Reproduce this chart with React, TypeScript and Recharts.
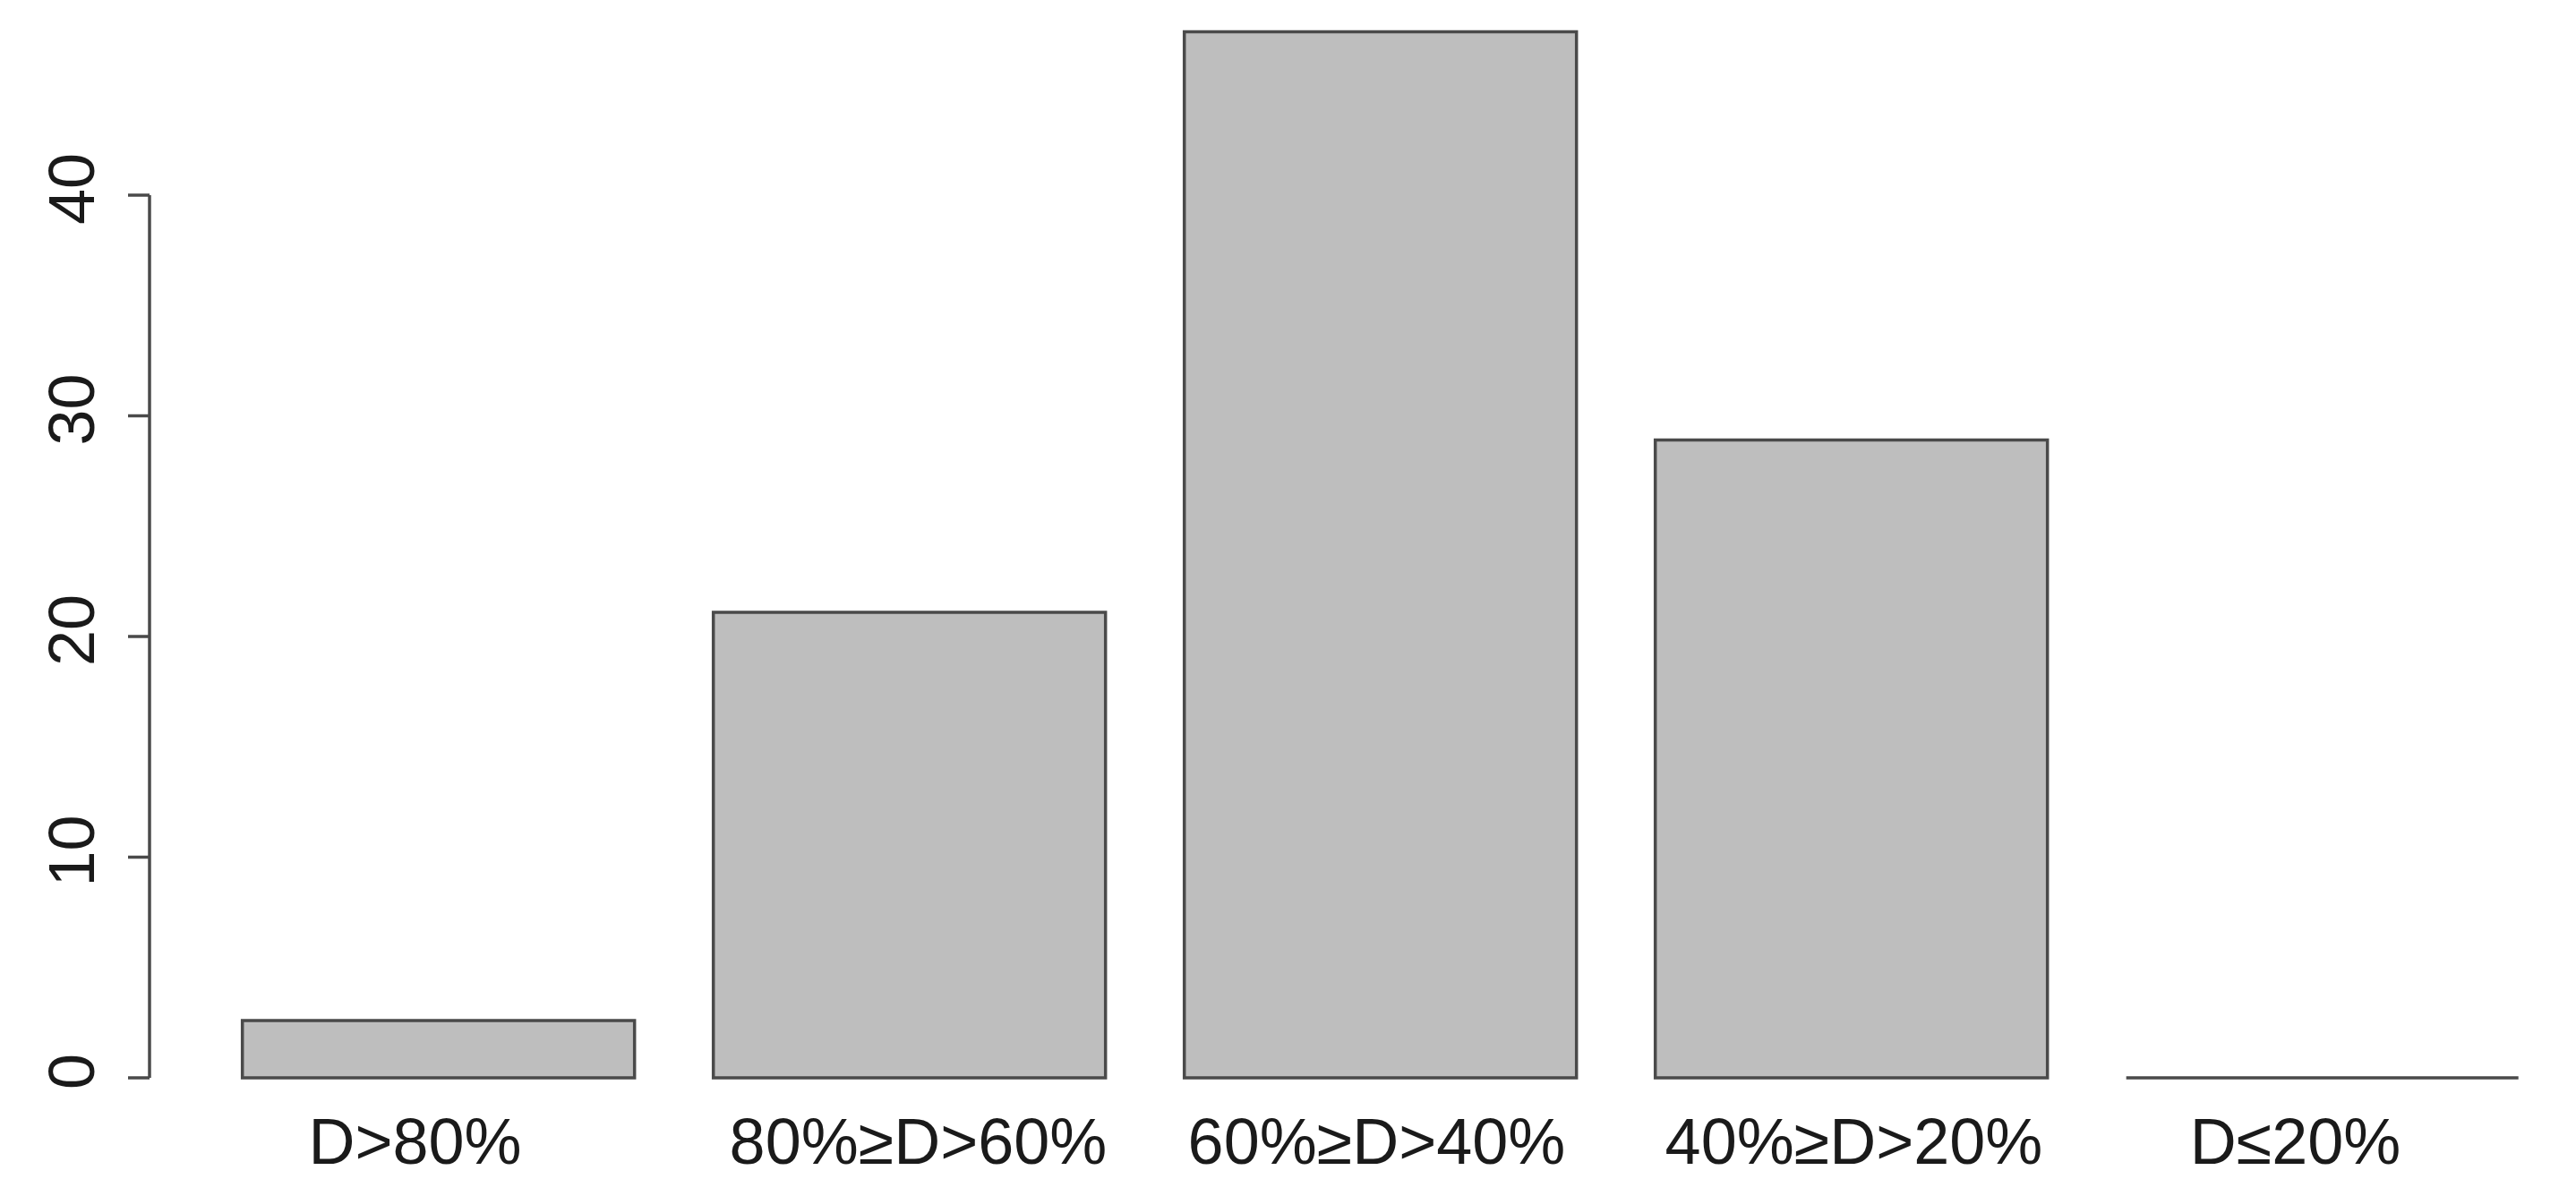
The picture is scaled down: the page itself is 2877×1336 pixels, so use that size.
import { BarChart, Bar, XAxis, YAxis, ReferenceLine } from 'recharts';

// share of sites per damage class (%)
const categories = ['D>80%', '80%≥D>60%', '60%≥D>40%', '40%≥D>20%', 'D≤20%'];
const shares = [2.6, 21.1, 47.4, 28.9, 0];
const yTicks = [0, 10, 20, 30, 40];
const yDomain = [0, 48];

const data = categories.map((name, i) => ({ name, value: shares[i] }));

const FONT = '"Liberation Sans", Arial, Helvetica, sans-serif';
const INK = '#1a1a1a';
const LINE = '#4a4a4a';

// the original labels are not quite centred under their bars
const labelNudge: Record<string, number> = {
    'D>80%': -26,
    '80%≥D>60%': 10,
    '60%≥D>40%': -4,
    '40%≥D>20%': 3,
    'D≤20%': -30,
};

// zero-height bars still need their outline (R draws a flat line)
const OutlinedBar = (props: any) => {
    const { x, y, width, height } = props;
    return (
        <path
            d={`M${x},${y}h${width}v${height}h${-width}Z`}
            fill="#bebebe"
            stroke={LINE}
            strokeWidth={3.5}
        />
    );
};

const CategoryTick = (props: any) => {
    const { x, y, payload } = props;
    return (
        <text
            x={x + (labelNudge[payload.value] || 0)}
            y={y}
            dy="0.71em"
            textAnchor="middle"
            fontSize={72}
            fontFamily={FONT}
            fill={INK}
        >
            {payload.value}
        </text>
    );
};

// y labels rotated, reading bottom to top
const RotatedTick = (props: any) => {
    const { x, y, payload } = props;
    return (
        <text
            x={x}
            y={y}
            dx={7}
            transform={`rotate(-90, ${x}, ${y})`}
            textAnchor="middle"
            fontSize={72}
            fontFamily={FONT}
            fill={INK}
        >
            {payload.value}
        </text>
    );
};

export default function App() {
    return (
        <div style={{ position: 'absolute', left: 0, top: 0, width: 2877, height: 1336, background: '#fff' }}>
            <BarChart
                width={2877}
                height={1336}
                data={data}
                margin={{ top: 20.8, right: 20.5, bottom: 0, left: 0 }}
                barCategoryGap="8.4%"
            >
                <XAxis
                    dataKey="name"
                    height={132}
                    padding={{ left: 59.5, right: 0 }}
                    axisLine={false}
                    tickLine={false}
                    tickSize={0}
                    tickMargin={45}
                    interval={0}
                    tick={<CategoryTick />}
                />
                <XAxis xAxisId="frame" type="number" domain={[0, 1]} hide />
                <YAxis
                    width={167}
                    domain={yDomain}
                    ticks={yTicks}
                    interval={0}
                    axisLine={false}
                    tickLine={{ stroke: LINE, strokeWidth: 3.5 }}
                    tickSize={24}
                    tickMargin={38}
                    tick={<RotatedTick />}
                />
                <ReferenceLine
                    xAxisId="frame"
                    segment={[{ x: 0, y: yTicks[0] }, { x: 0, y: yTicks[yTicks.length - 1] }]}
                    stroke={LINE}
                    strokeWidth={3.5}
                />
                <Bar dataKey="value" shape={<OutlinedBar />} isAnimationActive={false} />
            </BarChart>
        </div>
    );
}
